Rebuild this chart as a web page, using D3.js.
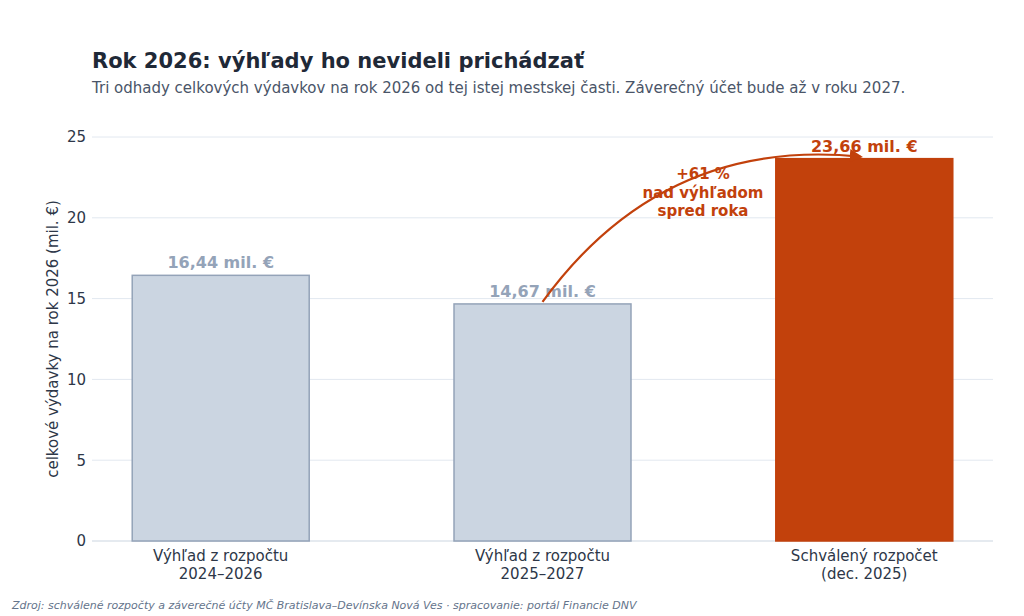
<!DOCTYPE html>
<html><head><meta charset="utf-8">
<script src="https://cdn.jsdelivr.net/npm/d3@7"></script>
<style>body{margin:0;background:#fff;font-family:"DejaVu Sans",sans-serif}</style>
</head><body><div id="chart"></div>
<script>
var categories = [["Výhľad z rozpočtu", "2024–2026"], ["Výhľad z rozpočtu", "2025–2027"], ["Schválený rozpočet", "(dec. 2025)"]];
var values = [16.44, 14.67, 23.66];
var valueLabels = ["16,44 mil. €", "14,67 mil. €", "23,66 mil. €"];
var yTicks = [0, 5, 10, 15, 20, 25];

var svgWidth = 1024, svgHeight = 616;
var svg = d3.select("#chart").append("svg").attr("width", svgWidth).attr("height", svgHeight);

var x = d3.scaleLinear().domain([-0.4, 2.4]).range([92, 993]);
var y = d3.scaleLinear().domain([0, 25]).range([541, 137]);
var bw = x(0.55) - x(0);

// gridlines
svg.selectAll(".grid").data(yTicks.slice(1)).enter().append("line")
  .attr("x1", 92).attr("x2", 993).attr("y1", d => y(d)).attr("y2", d => y(d))
  .attr("stroke", "#e2e8f0").attr("stroke-width", 1);

var leftAxis = d3.axisLeft(y).tickValues(yTicks).tickSize(0).tickPadding(6);
var gy = svg.append("g").attr("transform", "translate(92,0)").call(leftAxis);
gy.select(".domain").remove();
gy.selectAll("text").attr("font-size", 15).attr("fill", "#2d3748").attr("font-family", "DejaVu Sans");

svg.append("line").attr("x1", 92).attr("x2", 993).attr("y1", y(0)).attr("y2", y(0)).attr("stroke", "#cbd5e0");

svg.selectAll(".bar").data(values).enter().append("rect")
  .attr("x", (d, i) => x(i) - bw / 2).attr("width", bw)
  .attr("y", d => y(d)).attr("height", d => y(0) - y(d))
  .attr("fill", (d, i) => i === 2 ? "#c2410c" : "#cbd5e1")
  .attr("stroke", (d, i) => i === 2 ? "#c2410c" : "#94a3b8").attr("stroke-width", 1.5);

svg.selectAll(".vl").data(values).enter().append("text")
  .attr("x", (d, i) => x(i)).attr("y", d => y(d) - 7)
  .attr("text-anchor", "middle").attr("font-size", 16).attr("font-weight", "bold")
  .attr("fill", (d, i) => i === 2 ? "#c2410c" : "#94a3b8")
  .text((d, i) => valueLabels[i]);

categories.forEach(function(c, i) {
  c.forEach(function(line, j) {
    svg.append("text").attr("x", x(i)).attr("y", 561 + j * 18)
      .attr("text-anchor", "middle").attr("font-size", 15).attr("fill", "#2d3748").text(line);
  });
});

// arrow
svg.append("defs").append("marker").attr("id", "ah").attr("viewBox", "0 0 10 10")
  .attr("refX", 8).attr("refY", 5).attr("markerWidth", 6).attr("markerHeight", 6).attr("orient", "auto")
  .append("path").attr("d", "M0,0L10,5L0,10z").attr("fill", "#c2410c");
var sx = x(1), sy = y(values[1]) - 2, ex = x(2) - 4, ey = y(values[2]) - 2;
svg.append("path").attr("d", `M${sx},${sy} Q${sx + 120},${ey - 20} ${ex},${ey}`)
  .attr("fill", "none").attr("stroke", "#c2410c").attr("stroke-width", 2.2).attr("marker-end", "url(#ah)");

["+61 %", "nad výhľadom", "spred roka"].forEach(function(t, i) {
  svg.append("text").attr("x", 703).attr("y", 179 + i * 18.5).attr("text-anchor", "middle")
    .attr("font-size", 15).attr("font-weight", "bold").attr("fill", "#c2410c").text(t);
});

svg.append("text").attr("transform", "rotate(-90)").attr("x", -(137 + 541) / 2).attr("y", 58)
  .attr("text-anchor", "middle").attr("font-size", 15).attr("fill", "#2d3748")
  .text("celkové výdavky na rok 2026 (mil. €)");

svg.append("text").attr("x", 92).attr("y", 68).attr("font-size", 21).attr("font-weight", "bold")
  .attr("fill", "#1f2937").text("Rok 2026: výhľady ho nevideli prichádzať");
svg.append("text").attr("x", 92).attr("y", 93).attr("font-size", 15).attr("fill", "#4a5568")
  .text("Tri odhady celkových výdavkov na rok 2026 od tej istej mestskej časti. Záverečný účet bude až v roku 2027.");
svg.append("text").attr("x", 12).attr("y", 609).attr("font-size", 11).attr("font-style", "italic").attr("fill", "#64748b")
  .text("Zdroj: schválené rozpočty a záverečné účty MČ Bratislava–Devínska Nová Ves · spracovanie: portál Financie DNV");
</script></body></html>
